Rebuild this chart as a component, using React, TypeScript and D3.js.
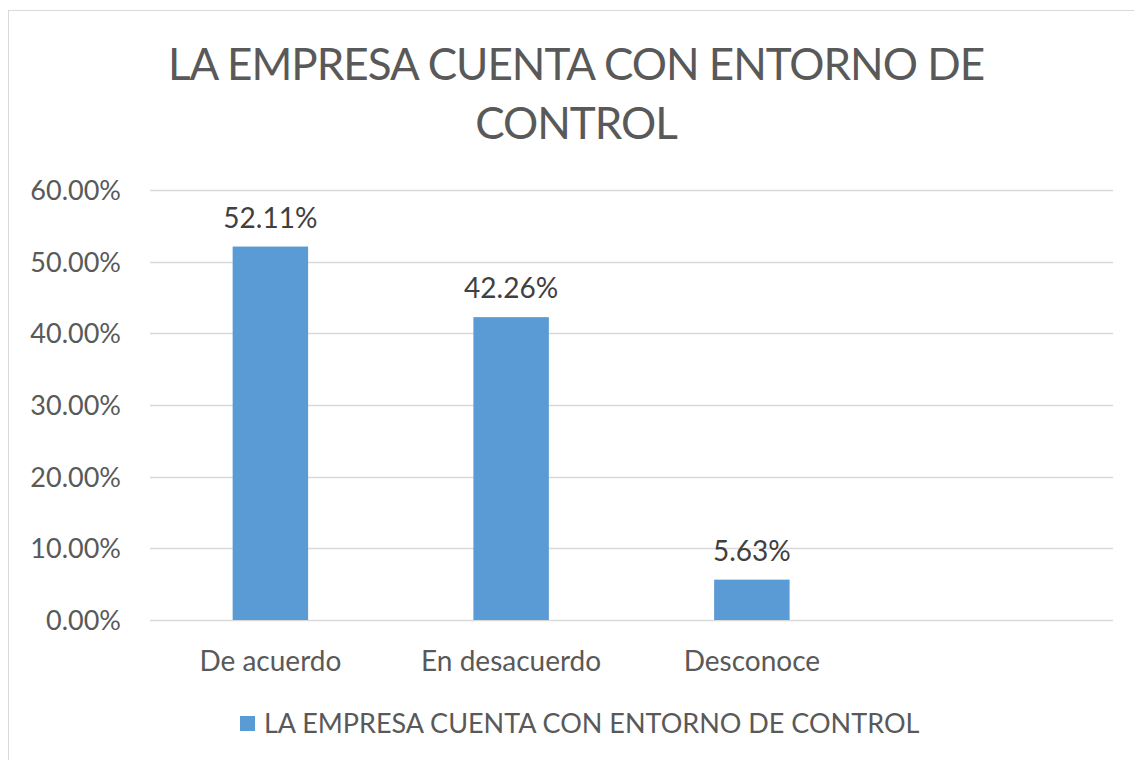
import React from "react";
import * as d3 from "d3";

const categories = ["De acuerdo", "En desacuerdo", "Desconoce", ""];
const values = [0.5211, 0.4226, 0.0563, null];
const yTicks = [0, 0.1, 0.2, 0.3, 0.4, 0.5, 0.6];
const titleLines = ["LA EMPRESA CUENTA CON ENTORNO DE", "CONTROL"];
const seriesName = "LA EMPRESA CUENTA CON ENTORNO DE CONTROL";

const W = 1134, H = 760;
const FONT = "Lato, 'Open Sans', sans-serif";
const TXT = "#595959";

export default function App() {
  const x0 = 150, x1 = 1113;
  const band = (x1 - x0) / categories.length;
  const bw = band / 3.19;
  const y = d3.scaleLinear().domain([0, 0.6]).range([620, 190]);
  const fmt = d3.format(".2%");
  return (
    <svg width={W} height={H} style={{ position: "absolute", left: 0, top: 0 }} fontFamily={FONT}>
      <rect x={8.5} y={10.5} width={W} height={H} fill="#fff" stroke="#d9d9d9" />
      {titleLines.map((t, i) => (
        <text key={i} x={576} y={80 + i * 59} textAnchor="middle" fontSize={44} letterSpacing={-1} fill={TXT}>{t}</text>
      ))}
      {yTicks.map((t) => (
        <g key={t}>
          <line x1={x0} x2={x1} y1={Math.round(y(t)) + 0.5} y2={Math.round(y(t)) + 0.5} stroke="#d9d9d9" strokeWidth={1.3} />
          <text x={121} y={y(t) + 10} textAnchor="end" fontSize={27} fill={TXT}>{fmt(t)}</text>
        </g>
      ))}
      {categories.map((c, i) => {
        const cx = x0 + band * (i + 0.5);
        const v = values[i];
        return (
          <g key={i}>
            {v != null && (
              <>
                <rect x={cx - bw / 2} y={y(v)} width={bw} height={y(0) - y(v)} fill="#5b9bd5" />
                <text x={cx} y={y(v) - 19} textAnchor="middle" fontSize={28} fill="#404040">{fmt(v)}</text>
              </>
            )}
            <text x={cx} y={671} textAnchor="middle" fontSize={28} fill={TXT}>{c}</text>
          </g>
        );
      })}
      <rect x={240} y={716} width={15} height={15} fill="#5b9bd5" />
      <text x={264} y={733} fontSize={27} fill={TXT}>{seriesName}</text>
    </svg>
  );
}
